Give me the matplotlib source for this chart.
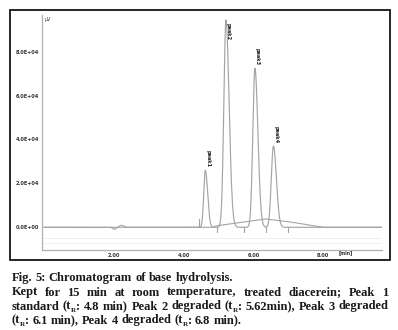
import numpy as np
import matplotlib
matplotlib.use("Agg")
import matplotlib.pyplot as plt
from matplotlib.patches import Rectangle
from matplotlib.font_manager import findfont, FontProperties
from matplotlib.ft2font import FT2Font

# peak table (time in min, height in uV, left/right widths)
peak_names = ["peak1", "peak2", "peak3", "peak4"]
peak_rt = [4.62, 5.21, 6.04, 6.57]
peak_height = [26000, 94500, 72500, 37000]
peak_sig_left = [0.045, 0.060, 0.060, 0.060]
peak_sig_right = [0.065, 0.090, 0.085, 0.085]

# small baseline disturbance near 2 min
bump_rt = [2.02, 2.22]
bump_height = [-900, 900]
bump_sig = [0.05, 0.06]

# second (overlaid) trace: broad rise under the peaks
hump_t = [0.0, 4.80, 4.95, 6.35, 7.10, 8.00, 9.66]
hump_y = [0, 0, 700, 3800, 2300, 0, 0]

# integration marks on the baseline
mark_t = [4.45, 4.96, 5.74, 6.37, 6.98]
mark_len = [4000, -2200, -2200, -2200, -2200]

yticks = [0, 20000, 40000, 60000, 80000]
ytick_labels = ["0.0E+00", "2.0E+04", "4.0E+04", "6.0E+04", "8.0E+04"]
xticks = [2, 4, 6, 8]
xtick_labels = ["2.00", "4.00", "6.00", "8.00"]

# "_R" marks a subscript R
caption_title = "Fig. 5: Chromatogram of base hydrolysis."
caption_lines = [
    "Kept for 15 min at room temperature, treated diacerein; Peak 1",
    "standard (t_R: 4.8 min) Peak 2 degraded (t_R: 5.62min), Peak 3 degraded",
    "(t_R: 6.1 min), Peak 4 degraded (t_R: 6.8 min).",
]

W, H = 398, 330
fig = plt.figure(figsize=(W / 100, H / 100), dpi=100)

# outer frame around the chromatogram
fig.patches.append(Rectangle((10 / W, 1 - 260 / H), 380 / W, 250 / H,
                             transform=fig.transFigure, fill=False,
                             edgecolor="black", linewidth=1.2))

ax = fig.add_axes([41.6 / W, 1 - 250 / H, (382 - 41.6) / W, 235 / H])

t = np.linspace(0, 9.66, 4000)
signal = np.zeros_like(t)
for rt, h, sl, sr in zip(peak_rt, peak_height, peak_sig_left, peak_sig_right):
    s = np.where(t < rt, sl, sr)
    signal += h * np.exp(-0.5 * ((t - rt) / s) ** 2)
for rt, h, s in zip(bump_rt, bump_height, bump_sig):
    signal += h * np.exp(-0.5 * ((t - rt) / s) ** 2)

grey = "#a4a4a4"
ax.plot(hump_t, hump_y, color=grey, lw=0.8)
ax.plot(t, signal, color=grey, lw=0.85)

# faint lower traces
ax.axhline(-5000, color="#ececec", lw=0.6)
ax.axhline(-7000, color="#f0f0f0", lw=0.6)

for mt, ml in zip(mark_t, mark_len):
    ax.plot([mt, mt], [0, ml], color=grey, lw=0.8)

for name, rt, h in zip(peak_names, peak_rt, peak_height):
    ly = min(h + 1500, 93000)
    ax.text(rt + 0.07, ly, name, rotation=270, fontsize=3.6,
            fontweight="bold", ha="center", va="bottom" if ly > h else "top",
            color="#222222")

ax.set_xlim(-0.07, 9.68)
ax.set_ylim(-10340, 96700)
ax.set_xticks(xticks)
ax.set_xticklabels(xtick_labels)
ax.set_yticks(yticks)
ax.set_yticklabels(ytick_labels)
ax.tick_params(length=0, labelsize=3.6, pad=2, colors="#333333")
for lab in ax.get_xticklabels() + ax.get_yticklabels():
    lab.set_fontweight("bold")
for side in ["top", "right"]:
    ax.spines[side].set_visible(False)
for side in ["left", "bottom"]:
    ax.spines[side].set_color("#b0b0b0")
    ax.spines[side].set_linewidth(0.9)

ax.text(0.03, 96000, "\u03bcV", fontsize=3.4, va="top", ha="left", color="#333333")
ax.text(8.45, -10340, "[min]", fontsize=3.4, fontweight="bold", va="top",
        ha="left", color="#333333")

# caption, drawn piece by piece so that lines can be justified
cap_font = dict(family="Liberation Serif", fontweight="bold", color="#1a1a1a",
                va="baseline")
size_main, size_sub = 9.0, 5.0
x0, x1 = 11.5 / W, 388.5 / W
base_y = [281, 295.5, 309.5, 323.5]
font_path = findfont(FontProperties(family="Liberation Serif", weight="bold"))


def advance(s, size):
    # pen advance of s in figure fraction, from the font's glyph metrics
    ft = FT2Font(font_path)
    ft.set_size(size, 100)
    total = sum(ft.load_char(ord(c)).linearHoriAdvance for c in s) / 65536
    return total / W


def word_pieces(word):
    pieces = []
    for j, part in enumerate(word.split("_R")):
        if j > 0:
            pieces.append(("R", size_sub, -2.2 / H))
        if part:
            pieces.append((part, size_main, 0.0))
    return pieces


space_w = advance(" ", size_main)
all_lines = [caption_title] + caption_lines
for i, line in enumerate(all_lines):
    y = 1 - base_y[i] / H
    words = [word_pieces(w) for w in line.split(" ")]
    widths = [sum(advance(s, sz) for s, sz, _ in pcs) for pcs in words]
    gap = space_w
    if i in (1, 2):
        gap = (x1 - x0 - sum(widths)) / (len(words) - 1)
    x = x0
    for pcs, ww in zip(words, widths):
        px = x
        for s, sz, dy in pcs:
            fig.text(px, y + dy, s, fontsize=sz, **cap_font)
            px += advance(s, sz)
        x += ww + gap

fig.savefig("out.png", dpi=100)
